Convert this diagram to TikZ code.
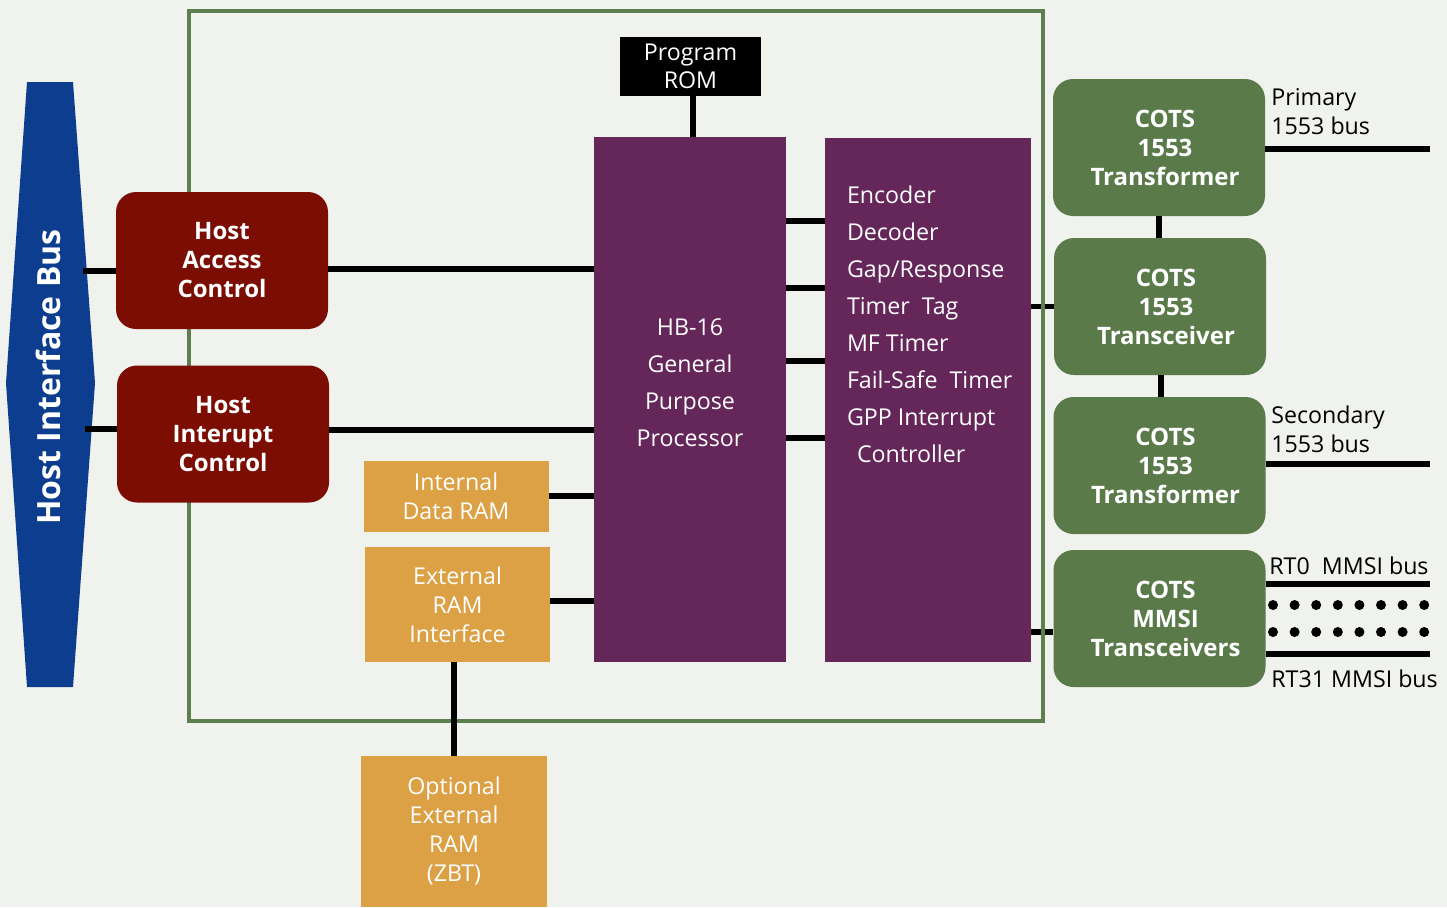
\documentclass[tikz,border=0pt]{standalone}
\usepackage{fontspec}
\setmainfont{Open Sans}
\usetikzlibrary{positioning,backgrounds}

\definecolor{pagebg}{HTML}{F0F2EE}
\definecolor{framegreen}{HTML}{5F7E50}
\definecolor{cotsgreen}{HTML}{5A7A4A}
\definecolor{hostred}{HTML}{7B0D02}
\definecolor{busblue}{HTML}{0D3D8E}
\definecolor{cpupurple}{HTML}{652659}
\definecolor{ramorange}{HTML}{DCA045}

\begin{document}
\begin{tikzpicture}[x=0.5pt, y=-0.5pt,
    wire/.style={line width=2.6pt, draw=black},
    hostbox/.style={rectangle, rounded corners=10pt, fill=hostred, text=white, align=center,
                    font=\bfseries\fontsize{12}{14.5}\selectfont, inner sep=0pt,
                    minimum width=106pt, minimum height=68.5pt},
    cotsbox/.style={hostbox, fill=cotsgreen},
    rambox/.style={rectangle, fill=ramorange, text=white, align=center,
                   font=\fontsize{11.6}{14.5}\selectfont, inner sep=0pt, minimum width=92.5pt},
    cpubox/.style={rectangle, fill=cpupurple, inner sep=0pt, minimum width=96pt, minimum height=262.5pt},
    cputext/.style={text=white, align=center, font=\fontsize{11.6}{18.5}\selectfont, inner sep=0pt},
    listtext/.style={text=white, align=left, font=\fontsize{11.6}{18.5}\selectfont, inner sep=0pt},
    buslabel/.style={anchor=west, align=left, font=\fontsize{11.6}{14.5}\selectfont, inner sep=0pt}
  ]
  \useasboundingbox (0,0) rectangle (1447,907);

  % host side
  \fill[busblue] (27,82) -- (73,82) -- (95,383) -- (73,687) -- (27,687) -- (6,383) -- cycle;
  \node[rotate=90, text=white, font=\bfseries\fontsize{16}{18}\selectfont] (busname) at (48,377) {Host Interface Bus};
  \coordinate (busA) at (83,271);
  \coordinate (busB) at (85,429);

  \node[hostbox] (hac) at (222,260.5) {Host\\Access\\Control};
  \node[hostbox] (hic) at (223,434) {Host\\Interupt\\Control};

  % processor core
  \node[rectangle, fill=black, text=white, align=center, font=\fontsize{11.6}{14}\selectfont,
        inner sep=0pt, minimum width=70.5pt, minimum height=29.5pt] (rom) at (690.5,66.5) {Program\\ROM};
  \node[cpubox, label={[cputext, anchor=center, yshift=8.5pt]center:{HB-16\\General\\Purpose\\Processor}}] (hb) at (690,399.5) {};
  \node[cpubox, minimum width=103pt, minimum height=262pt,
        label={[listtext, anchor=north west, xshift=11pt, yshift=-24pt]north west:{Encoder\\Decoder\\Gap/Response\\Timer~ Tag\\MF Timer\\Fail-Safe~ Timer\\GPP Interrupt\\\hspace{5pt}Controller}}] (periph) at (928,400) {};

  \node[rambox, minimum height=35.5pt] (idram) at (456,496.5) {Internal\\Data RAM};
  \node[rambox, minimum height=57.5pt] (extif) at (457.5,604.5) {External\\RAM\\Interface};
  \node[rambox, minimum width=93pt, minimum height=75.5pt] (optram) at (454,831.5) {Optional\\External\\RAM\\(ZBT)};

  % 1553 / MMSI side
  \node[cotsbox, text width=106pt] (xfmrA) at (1159,147.5) {\hspace*{6pt}COTS\\\hspace*{6pt}1553\\\hspace*{6pt}Transformer};
  \node[cotsbox, text width=106pt] (xcvr) at (1160,306.5) {\hspace*{6pt}COTS\\\hspace*{6pt}1553\\\hspace*{6pt}Transceiver};
  \node[cotsbox, text width=106pt] (xfmrB) at (1159.5,465.5) {\hspace*{6pt}COTS\\\hspace*{6pt}1553\\\hspace*{6pt}Transformer};
  \node[cotsbox, text width=106pt] (mmsi) at (1159.5,618.5) {\hspace*{6pt}COTS\\\hspace*{6pt}MMSI\\\hspace*{6pt}Transceivers};

  \node[buslabel] (primlbl) at (1271,112) {Primary\\1553 bus};
  \node[buslabel] (seclbl) at (1271,429) {Secondary\\1553 bus};
  \node[buslabel] (rtzlbl) at (1269,566) {RT0~ MMSI bus};
  \node[buslabel] (rtllbl) at (1271,679) {RT31 MMSI bus};
  \coordinate (primend) at (1430,149);
  \coordinate (secend) at (1430,464);
  \coordinate (rtzend) at (1430,584);
  \coordinate (rtlend) at (1430,654);

  % connections
  \draw[wire] (busA) -- (hac.west |- busA);
  \draw[wire] (busB) -- (hic.west |- busB);
  \draw[wire] (hac.east |- 0,269) -- (hb.west |- 0,269);
  \draw[wire] (hic.east |- 0,430) -- (hb.west |- 0,430);
  \draw[wire] (rom.south -| 693,0) -- (hb.north -| 693,0);
  \draw[wire] (idram.east |- 0,496) -- (hb.west |- 0,496);
  \draw[wire] (extif.east |- 0,601) -- (hb.west |- 0,601);
  \draw[wire] (extif.south -| optram.north) -- (optram.north);
  \foreach \y in {221,288,361,438}
    \draw[wire] (hb.east |- 0,\y) -- (periph.west |- 0,\y);

  \draw[wire] (xfmrA.south) -- (xfmrA.south |- xcvr.north);
  \draw[wire] (xcvr.south -| 1161,0) -- (xfmrB.north -| 1161,0);
  \draw[wire] (xfmrA.east |- primend) -- (primend);
  \draw[wire] (xfmrB.east |- secend) -- (secend);
  \draw[wire] (mmsi.east |- rtzend) -- (rtzend);
  \draw[wire] (mmsi.east |- rtlend) -- (rtlend);
  \foreach \i in {0,...,7} {
    \fill (1273+\i*21.6,605) circle (2.5pt);
    \fill (1273+\i*21.6,632) circle (2.5pt);
  }

  \begin{scope}[on background layer]
    \fill[pagebg] (0,0) rectangle (1447,907);
    \draw[wire] (periph.east |- xcvr.west) -- (xcvr.west);
    \draw[wire] (periph.east |- 0,632) -- (mmsi.west |- 0,632);
    \draw[framegreen, line width=2.2pt] (189,11) rectangle (1043,721);
  \end{scope}
\end{tikzpicture}
\end{document}
